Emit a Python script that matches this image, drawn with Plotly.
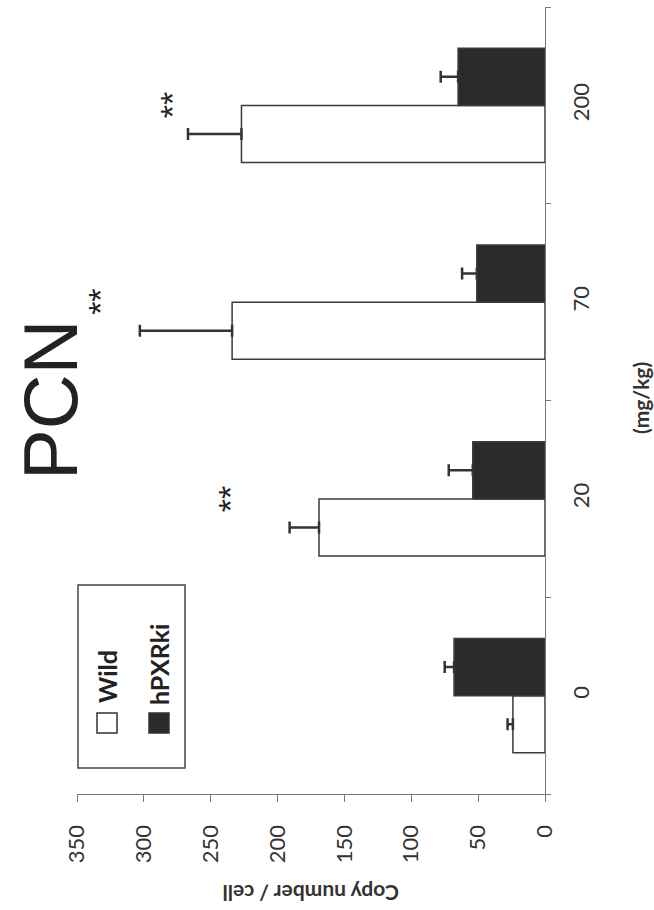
import plotly.graph_objects as go

# Dose groups (mg/kg) and measured copy numbers per cell
doses = ["0", "20", "70", "200"]
wild = [24, 169, 234, 227]
wild_err = [4, 22, 69, 40]
hpxrki = [68, 54, 51, 65]
hpxrki_err = [7, 18, 11, 13]
value_ticks = [0, 50, 100, 150, 200, 250, 300, 350]

# Significance marks (dose, height in copy number)
sig_doses = ["20", "70", "200"]
sig_heights = [236, 333, 279]

W, H = 654, 910
ML, MR, MT, MB = 77, 109, 7, 116
PW, PH = W - ML - MR, H - MT - MB


def px(x):
    return (x - ML) / PW


def py(y):
    return (H - MB - y) / PH


EDGE = "#3a3a3a"
fig = go.Figure()
fig.add_bar(
    y=doses, x=wild, orientation="h", name="Wild",
    marker=dict(color="white", line=dict(color=EDGE, width=1.5)),
    error_x=dict(type="data", array=wild_err, arrayminus=[0] * len(wild),
                 symmetric=False, color="#333", thickness=2.5, width=6),
)
fig.add_bar(
    y=doses, x=hpxrki, orientation="h", name="hPXRki",
    marker=dict(color="#2b2b2b", line=dict(color=EDGE, width=1.5)),
    error_x=dict(type="data", array=hpxrki_err, arrayminus=[0] * len(hpxrki),
                 symmetric=False, color="#333", thickness=2.5, width=6),
)

tick_font = dict(family="Lato, Open Sans, sans-serif", size=22, color="#333")
fig.update_layout(
    width=W, height=H,
    margin=dict(l=ML, r=MR, t=MT, b=MB, pad=0),
    paper_bgcolor="white", plot_bgcolor="white",
    barmode="group", bargap=0.42, bargroupgap=0,
    showlegend=False,
    xaxis=dict(
        range=[350, 0], tickvals=value_ticks, ticks="outside", ticklen=7,
        tickcolor="#777", showline=True, linecolor="#777", linewidth=1.2,
        tickangle=-90, tickfont=tick_font, showgrid=False, zeroline=False,
        ticklabelstandoff=14,
    ),
    yaxis=dict(
        type="category", categoryorder="array", categoryarray=doses,
        range=[-0.5, len(doses) - 0.5],
        side="right", tickson="boundaries", ticks="outside", ticklen=5,
        tickcolor="#777", showline=True, linecolor="#777", linewidth=1.2,
        tickangle=-90, tickfont=tick_font, showgrid=False, zeroline=False,
        ticklabelstandoff=16,
    ),
)

annotations = []
# Axis titles
annotations.append(dict(
    text="<b>Copy number / cell</b>", xref="paper", yref="paper",
    x=0.5, y=0, yshift=-(894 - (H - MB)), showarrow=False, textangle=180,
    xanchor="center", yanchor="middle",
    font=dict(family="Lato, Open Sans, sans-serif", size=21, color="#333"),
))
annotations.append(dict(
    text="<b>(mg/kg)</b>", xref="paper", yref="paper",
    x=px(640), y=py(398), showarrow=False, textangle=-90,
    xanchor="center", yanchor="middle",
    font=dict(family="Lato, Open Sans, sans-serif", size=21, color="#333"),
))
# Title
annotations.append(dict(
    text="PCN", xref="paper", yref="paper", x=px(50), y=py(400),
    showarrow=False, textangle=-90, xanchor="center", yanchor="middle",
    font=dict(family="Liberation Sans, Arial, sans-serif", size=76, color="#222"),
))
# Significance marks, placed by category index
for d, h in zip(sig_doses, sig_heights):
    annotations.append(dict(
        text="**", x=h, y=doses.index(d), xref="x", yref="y", showarrow=False,
        textangle=-90, xanchor="center", yanchor="middle",
        font=dict(family="Liberation Sans, Arial, sans-serif", size=34, color="#222"),
    ))

# Legend drawn as a rotated key inside the plot
shapes = [
    dict(type="rect", xref="paper", yref="paper", x0=px(78), x1=px(185),
         y0=py(768), y1=py(585), line=dict(color="#444", width=1.5),
         fillcolor="rgba(0,0,0,0)"),
    dict(type="rect", xref="paper", yref="paper", x0=px(97), x1=px(117),
         y0=py(733), y1=py(713), line=dict(color="#333", width=1.5),
         fillcolor="white"),
    dict(type="rect", xref="paper", yref="paper", x0=px(149), x1=px(169),
         y0=py(733), y1=py(713), line=dict(color="#333", width=1.5),
         fillcolor="#2b2b2b"),
]
legend_font = dict(family="Lato, Open Sans, sans-serif", size=25, color="#222")
annotations.append(dict(text="<b>Wild</b>", xref="paper", yref="paper",
                        x=px(107), y=py(677), showarrow=False, textangle=-90,
                        xanchor="center", yanchor="middle", font=legend_font))
annotations.append(dict(text="<b>hPXRki</b>", xref="paper", yref="paper",
                        x=px(159), y=py(665), showarrow=False, textangle=-90,
                        xanchor="center", yanchor="middle", font=legend_font))

fig.update_layout(annotations=annotations, shapes=shapes)
fig.write_html("out.html")
